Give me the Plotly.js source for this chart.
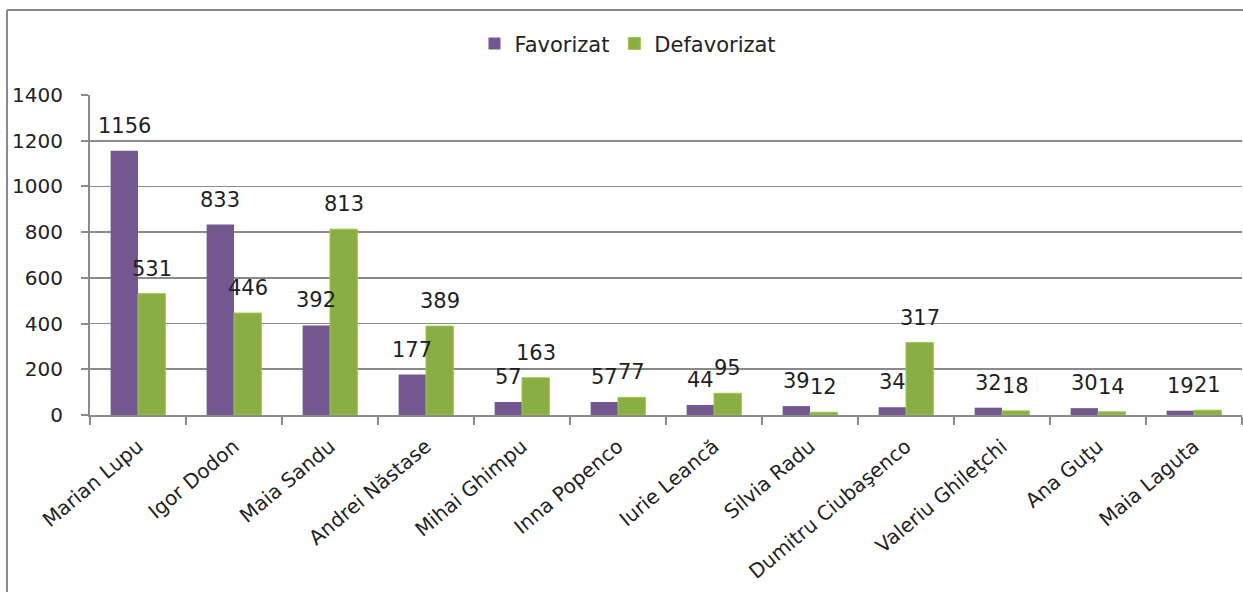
<!DOCTYPE html>
<html>
<head>
<meta charset="utf-8">
<script src="https://cdn.plot.ly/plotly-3.0.1.min.js"></script>
<style>html,body{margin:0;padding:0;background:#fff;}#chart{width:1243px;height:592px;}</style>
</head>
<body>
<div id="chart"></div>
<script>
const categories = ["Marian Lupu","Igor Dodon","Maia Sandu","Andrei Năstase","Mihai Ghimpu","Inna Popenco","Iurie Leancă","Silvia Radu","Dumitru Ciubaşenco","Valeriu Ghileţchi","Ana Guţu","Maia Laguta"];
const favorizat = [1156,833,392,177,57,57,44,39,34,32,30,19];
const defavorizat = [531,446,813,389,163,77,95,12,317,18,14,21];
const seriesNames = ["Favorizat","Defavorizat"];
const yTicks = [0,200,400,600,800,1000,1200,1400];

const FONT = "DejaVu Sans, sans-serif";
const purple = "#72588F";
const green = "#8AAE44";
const gray = "#8A8A8A";

const plotW = 1243 - 90 - 1;
const catW = plotW / categories.length;
const bargap = 0.43;
const barW = catW * (1 - bargap) / 2;

const traces = [
  {type:"bar", name:seriesNames[0], x:categories, y:favorizat, marker:{color:purple}, hoverinfo:"x+y"},
  {type:"bar", name:seriesNames[1], x:categories, y:defavorizat, marker:{color:green, line:{color:"#9CC84E", width:1}}, hoverinfo:"x+y"}
];

const annotations = [];
[favorizat, defavorizat].forEach((vals, s) => {
  vals.forEach((v, i) => {
    annotations.push({
      x: categories[i], y: v, xref:"x", yref:"y",
      text: String(v), showarrow:false,
      xanchor:"center", yanchor:"bottom",
      xshift: (s === 0 ? -1 : 1) * barW / 2,
      yshift: 11,
      font:{family:FONT, size:21, color:"#1f1f1f"}
    });
  });
});

const layout = {
  width:1243, height:592,
  margin:{l:90, r:1, t:95, b:177},
  paper_bgcolor:"#ffffff", plot_bgcolor:"#ffffff",
  barmode:"group", bargap:bargap, bargroupgap:0,
  showlegend:true,
  legend:{orientation:"h", x:0.467, xanchor:"center", y:1.16, yanchor:"middle",
          font:{family:FONT, size:21, color:"#222"}, itemwidth:30, traceorder:"normal"},
  font:{family:FONT, color:"#222"},
  xaxis:{type:"category", tickangle:-40, tickson:"boundaries", ticks:"outside", ticklen:8, tickcolor:gray, tickwidth:2,
         showline:true, linecolor:gray, linewidth:2, showgrid:false, ticklabelstandoff:10,
         tickfont:{family:FONT, size:20, color:"#222"}},
  yaxis:{range:[0,1400], tickvals:yTicks, ticktext:yTicks.map(String), ticks:"outside", ticklen:7, tickcolor:gray, tickwidth:2,
         showline:true, linecolor:gray, linewidth:2, showgrid:true, gridcolor:gray, gridwidth:1.8,
         zeroline:false, ticklabelstandoff:14,
         tickfont:{family:FONT, size:20, color:"#222"}},
  annotations:annotations,
  shapes:[
    {type:"line", xref:"paper", yref:"paper", x0:(7-90)/plotW, x1:1.01, y0:(415-10)/320, y1:(415-10)/320, line:{color:gray, width:2}},
    {type:"line", xref:"paper", yref:"paper", x0:(7-90)/plotW, x1:(7-90)/plotW, y0:(415-10)/320, y1:-0.6, line:{color:gray, width:2}}
  ]
};

Plotly.newPlot("chart", traces, layout, {displayModeBar:false, staticPlot:true});
</script>
</body>
</html>
